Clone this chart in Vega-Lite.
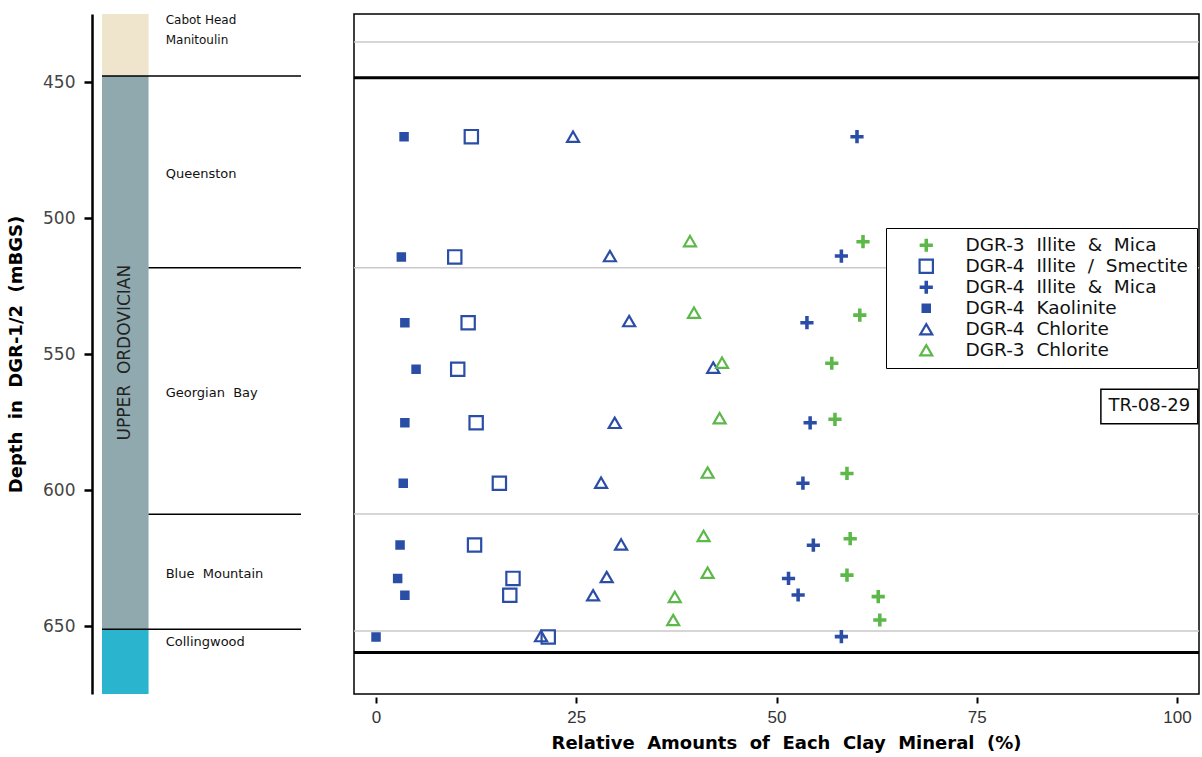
{
  "$schema": "https://vega.github.io/schema/vega-lite/v6.json",
  "background": "white",
  "padding": {"left": 7, "top": 13, "right": 0, "bottom": 0},
  "spacing": 53,
  "bounds": "flush",
  "config": {"view": {"stroke": null}, "font": "DejaVu Sans", "axis": {"grid": false}},
  "hconcat": [
    {
      "width": 199,
      "height": 680,
      "layer": [
        {
          "data": {"values": [
            {"interval": "Cabot Head - Manitoulin", "top": 425, "base": 447.8},
            {"interval": "Upper Ordovician", "top": 447.8, "base": 651.2},
            {"interval": "Collingwood", "top": 651.2, "base": 675}
          ]},
          "mark": {"type": "rect", "opacity": 1},
          "encoding": {
            "x": {"datum": 0, "type": "quantitative", "scale": {"domain": [0, 100], "nice": false, "zero": false}, "axis": null},
            "x2": {"datum": 23.4},
            "y": {"field": "top", "type": "quantitative",
              "scale": {"domain": [425, 675], "reverse": true, "nice": false, "zero": false},
              "axis": {
                "title": "Depth\u00a0\u00a0in\u00a0\u00a0DGR-1/2\u00a0\u00a0(mBGS)",
                "values": [450, 500, 550, 600, 650],
                "offset": 10, "tickSize": 8, "tickWidth": 2.5, "domainWidth": 2.5,
                "domainColor": "black", "tickColor": "black",
                "labelFont": "DejaVu Sans", "labelFontSize": 17, "labelColor": "#444", "labelPadding": 9,
                "titleFont": "DejaVu Sans", "titleFontWeight": "bold", "titleFontSize": 18, "titlePadding": 17, "titleColor": "black"
              }},
            "y2": {"field": "base"},
            "color": {"field": "interval", "type": "nominal",
              "scale": {"domain": ["Cabot Head - Manitoulin", "Upper Ordovician", "Collingwood"], "range": ["#efe5cd", "#90a9ae", "#2ab4cd"]},
              "legend": null}
          }
        },
        {
          "mark": {"type": "rule", "color": "black", "strokeWidth": 1.5},
          "encoding": {"x": {"datum": 0, "type": "quantitative"}}
        },
        {
          "mark": {"type": "rule", "color": "black", "strokeWidth": 1.5},
          "encoding": {"x": {"datum": 23.4, "type": "quantitative"}}
        },
        {
          "mark": {"type": "rule", "color": "black", "strokeWidth": 1.5},
          "encoding": {"x": {"datum": 100, "type": "quantitative"}}
        },
        {
          "data": {"values": [{"depth": 447.8}, {"depth": 651.2}]},
          "mark": {"type": "rule", "color": "black", "strokeWidth": 1.5},
          "encoding": {
            "x": {"datum": 0, "type": "quantitative"},
            "x2": {"datum": 100},
            "y": {"field": "depth", "type": "quantitative"}
          }
        },
        {
          "data": {"values": [{"depth": 518.3}, {"depth": 608.9}]},
          "mark": {"type": "rule", "color": "black", "strokeWidth": 1.5},
          "encoding": {
            "x": {"datum": 23.4, "type": "quantitative"},
            "x2": {"datum": 100},
            "y": {"field": "depth", "type": "quantitative"}
          }
        },
        {
          "data": {"values": [
            {"name": "Cabot\u00a0Head", "depth": 427.2},
            {"name": "Manitoulin", "depth": 434.7}
          ]},
          "mark": {"type": "text", "align": "left", "baseline": "middle", "fontSize": 12, "font": "DejaVu Sans", "color": "#111"},
          "encoding": {
            "x": {"datum": 32, "type": "quantitative"},
            "y": {"field": "depth", "type": "quantitative"},
            "text": {"field": "name"}
          }
        },
        {
          "data": {"values": [
            {"name": "Queenston", "depth": 483.7},
            {"name": "Georgian\u00a0\u00a0Bay", "depth": 564.2},
            {"name": "Blue\u00a0\u00a0Mountain", "depth": 630.8},
            {"name": "Collingwood", "depth": 655.8}
          ]},
          "mark": {"type": "text", "align": "left", "baseline": "middle", "fontSize": 13, "font": "DejaVu Sans", "color": "#111"},
          "encoding": {
            "x": {"datum": 32, "type": "quantitative"},
            "y": {"field": "depth", "type": "quantitative"},
            "text": {"field": "name"}
          }
        },
        {
          "data": {"values": [{"name": "UPPER\u00a0\u00a0ORDOVICIAN", "depth": 549.5}]},
          "mark": {"type": "text", "align": "center", "baseline": "middle", "angle": 270, "fontSize": 17, "font": "DejaVu Sans", "color": "#222"},
          "encoding": {
            "x": {"datum": 11.7, "type": "quantitative"},
            "y": {"field": "depth", "type": "quantitative"},
            "text": {"field": "name"}
          }
        }
      ]
    },
    {
      "width": 845,
      "height": 680,
      "view": {"stroke": "black", "strokeWidth": 1.5},
      "layer": [
        {
          "data": {"values": [{"depth": 435.3}, {"depth": 518.3}, {"depth": 608.8}, {"depth": 651.8}]},
          "mark": {"type": "rule", "color": "#c9c9c9", "strokeWidth": 1.5},
          "encoding": {
            "y": {"field": "depth", "type": "quantitative",
              "scale": {"domain": [425, 675], "reverse": true, "nice": false, "zero": false}, "axis": null}
          }
        },
        {
          "data": {"values": [{"depth": 448.4}, {"depth": 659.7}]},
          "mark": {"type": "rule", "color": "black", "strokeWidth": 3},
          "encoding": {
            "y": {"field": "depth", "type": "quantitative", "axis": null}
          }
        },
        {
          "data": {"values": [
            {"series": "DGR-4 Kaolinite", "pct": 3.5, "depth": 470.1},
            {"series": "DGR-4 Illite / Smectite", "pct": 11.9, "depth": 470.1},
            {"series": "DGR-4 Chlorite", "pct": 24.6, "depth": 470.1},
            {"series": "DGR-4 Illite & Mica", "pct": 60.05, "depth": 470.1},

            {"series": "DGR-4 Kaolinite", "pct": 3.16, "depth": 514.3},
            {"series": "DGR-4 Illite / Smectite", "pct": 9.83, "depth": 514.3},
            {"series": "DGR-4 Chlorite", "pct": 29.2, "depth": 514.0},
            {"series": "DGR-3 Chlorite", "pct": 39.2, "depth": 508.5},
            {"series": "DGR-4 Illite & Mica", "pct": 58.1, "depth": 514.0},
            {"series": "DGR-3 Illite & Mica", "pct": 60.8, "depth": 508.7},

            {"series": "DGR-4 Kaolinite", "pct": 3.6, "depth": 538.5},
            {"series": "DGR-4 Illite / Smectite", "pct": 11.5, "depth": 538.5},
            {"series": "DGR-4 Chlorite", "pct": 31.6, "depth": 537.9},
            {"series": "DGR-3 Chlorite", "pct": 39.7, "depth": 534.8},
            {"series": "DGR-4 Illite & Mica", "pct": 53.8, "depth": 538.5},
            {"series": "DGR-3 Illite & Mica", "pct": 60.4, "depth": 535.7},

            {"series": "DGR-4 Kaolinite", "pct": 5.0, "depth": 555.6},
            {"series": "DGR-4 Illite / Smectite", "pct": 10.2, "depth": 555.6},
            {"series": "DGR-4 Chlorite", "pct": 42.1, "depth": 555.0},
            {"series": "DGR-3 Chlorite", "pct": 43.2, "depth": 553.2},
            {"series": "DGR-3 Illite & Mica", "pct": 56.9, "depth": 553.4},

            {"series": "DGR-4 Kaolinite", "pct": 3.6, "depth": 575.3},
            {"series": "DGR-4 Illite / Smectite", "pct": 12.5, "depth": 575.3},
            {"series": "DGR-4 Chlorite", "pct": 29.8, "depth": 575.3},
            {"series": "DGR-3 Chlorite", "pct": 42.9, "depth": 573.6},
            {"series": "DGR-4 Illite & Mica", "pct": 54.2, "depth": 575.3},
            {"series": "DGR-3 Illite & Mica", "pct": 57.3, "depth": 574.0},

            {"series": "DGR-4 Kaolinite", "pct": 3.4, "depth": 597.5},
            {"series": "DGR-4 Illite / Smectite", "pct": 15.4, "depth": 597.5},
            {"series": "DGR-4 Chlorite", "pct": 28.1, "depth": 597.3},
            {"series": "DGR-3 Chlorite", "pct": 41.4, "depth": 593.6},
            {"series": "DGR-4 Illite & Mica", "pct": 53.3, "depth": 597.5},
            {"series": "DGR-3 Illite & Mica", "pct": 58.8, "depth": 593.9},

            {"series": "DGR-4 Kaolinite", "pct": 3.0, "depth": 620.2},
            {"series": "DGR-4 Illite / Smectite", "pct": 12.3, "depth": 620.2},
            {"series": "DGR-4 Chlorite", "pct": 30.6, "depth": 620.0},
            {"series": "DGR-3 Chlorite", "pct": 40.9, "depth": 616.9},
            {"series": "DGR-4 Illite & Mica", "pct": 54.6, "depth": 620.3},
            {"series": "DGR-3 Illite & Mica", "pct": 59.2, "depth": 617.9},

            {"series": "DGR-4 Kaolinite", "pct": 2.7, "depth": 632.5},
            {"series": "DGR-4 Illite / Smectite", "pct": 17.1, "depth": 632.5},
            {"series": "DGR-4 Chlorite", "pct": 28.8, "depth": 632.0},
            {"series": "DGR-3 Chlorite", "pct": 41.4, "depth": 630.4},
            {"series": "DGR-4 Illite & Mica", "pct": 51.5, "depth": 632.5},
            {"series": "DGR-3 Illite & Mica", "pct": 58.8, "depth": 631.3},

            {"series": "DGR-4 Kaolinite", "pct": 3.6, "depth": 638.7},
            {"series": "DGR-4 Illite / Smectite", "pct": 16.7, "depth": 638.7},
            {"series": "DGR-4 Chlorite", "pct": 27.1, "depth": 638.7},
            {"series": "DGR-3 Chlorite", "pct": 37.3, "depth": 639.3},
            {"series": "DGR-4 Illite & Mica", "pct": 52.7, "depth": 638.6},
            {"series": "DGR-3 Illite & Mica", "pct": 62.7, "depth": 639.2},

            {"series": "DGR-3 Chlorite", "pct": 37.1, "depth": 647.8},
            {"series": "DGR-3 Illite & Mica", "pct": 62.9, "depth": 647.8},

            {"series": "DGR-4 Kaolinite", "pct": 0.0, "depth": 654.0},
            {"series": "DGR-4 Illite / Smectite", "pct": 21.5, "depth": 654.0},
            {"series": "DGR-4 Chlorite", "pct": 20.6, "depth": 653.7},
            {"series": "DGR-4 Illite & Mica", "pct": 58.1, "depth": 653.9}
          ]},
          "mark": {"type": "point", "filled": true, "size": 225, "strokeWidth": 2.2, "opacity": 1},
          "encoding": {
            "x": {"field": "pct", "type": "quantitative",
              "scale": {"domain": [-2.75, 102.75], "nice": false, "zero": false},
              "axis": {
                "values": [0, 25, 50, 75, 100],
                "title": "Relative\u00a0\u00a0Amounts\u00a0\u00a0of\u00a0\u00a0Each\u00a0\u00a0Clay\u00a0\u00a0Mineral\u00a0\u00a0(%)",
                "domain": false, "offset": 3, "tickSize": 6, "tickWidth": 2, "tickColor": "black",
                "labelFont": "Liberation Sans", "labelFontSize": 17, "labelColor": "#333", "labelPadding": 6,
                "titleFont": "DejaVu Sans", "titleFontWeight": "bold", "titleFontSize": 18, "titlePadding": 9, "titleColor": "black",
                "titleX": 432
              }},
            "y": {"field": "depth", "type": "quantitative", "axis": null},
            "shape": {"field": "series", "type": "nominal",
              "scale": {
                "domain": ["DGR-3 Illite & Mica", "DGR-4 Illite / Smectite", "DGR-4 Illite & Mica", "DGR-4 Kaolinite", "DGR-4 Chlorite", "DGR-3 Chlorite"],
                "range": [
                  "M-0.733,-0.09H-0.09V-0.733H0.09V-0.09H0.733V0.09H0.09V0.733H-0.09V0.09H-0.733Z",
                  "M-0.887,-0.887H0.887V0.887H-0.887Z",
                  "M-0.733,-0.09H-0.09V-0.733H0.09V-0.09H0.733V0.09H0.09V0.733H-0.09V0.09H-0.733Z",
                  "M-0.487,-0.487H0.487V0.487H-0.487Z",
                  "M0,-0.69L0.8,0.69L-0.8,0.69Z",
                  "M0,-0.69L0.8,0.69L-0.8,0.69Z"
                ]},
              "legend": {"orient": "none", "legendX": 784, "legendY": 214, "title": null, "strokeColor": "black", "fillColor": "white",
                "padding": 8, "symbolOffset": 23, "labelOffset": 30, "labelFont": "DejaVu Sans", "labelFontSize": 18.5, "labelColor": "#111",
                "labelLimit": 400, "rowPadding": -2, "gridAlign": "all", "symbolSize": 225, "symbolStrokeWidth": 2.2,
                "symbolFillColor": "transparent", "symbolStrokeColor": "#2a4ea6",
                "labelExpr": "replace(datum.label, regexp(' ', 'g'), '\u00a0\u00a0')"}},
            "fill": {"field": "series", "type": "nominal",
              "scale": {
                "domain": ["DGR-3 Illite & Mica", "DGR-4 Illite / Smectite", "DGR-4 Illite & Mica", "DGR-4 Kaolinite", "DGR-4 Chlorite", "DGR-3 Chlorite"],
                "range": ["#5cb848", "transparent", "#2a4ea6", "#2a4ea6", "transparent", "transparent"]},
              "legend": {"orient": "none", "legendX": 784, "legendY": 214, "title": null, "strokeColor": "black", "fillColor": "white",
                "padding": 8, "symbolOffset": 23, "labelOffset": 30, "labelFont": "DejaVu Sans", "labelFontSize": 18.5, "labelColor": "#111",
                "labelLimit": 400, "rowPadding": -2, "gridAlign": "all", "symbolSize": 225, "symbolStrokeWidth": 2.2,
                "symbolFillColor": "transparent", "symbolStrokeColor": "#2a4ea6",
                "labelExpr": "replace(datum.label, regexp(' ', 'g'), '\u00a0\u00a0')"}},
            "stroke": {"field": "series", "type": "nominal",
              "scale": {
                "domain": ["DGR-3 Illite & Mica", "DGR-4 Illite / Smectite", "DGR-4 Illite & Mica", "DGR-4 Kaolinite", "DGR-4 Chlorite", "DGR-3 Chlorite"],
                "range": ["#5cb848", "#2a4ea6", "#2a4ea6", "#2a4ea6", "#2a4ea6", "#5cb848"]},
              "legend": {"orient": "none", "legendX": 784, "legendY": 214, "title": null, "strokeColor": "black", "fillColor": "white",
                "padding": 8, "symbolOffset": 23, "labelOffset": 30, "labelFont": "DejaVu Sans", "labelFontSize": 18.5, "labelColor": "#111",
                "labelLimit": 400, "rowPadding": -2, "gridAlign": "all", "symbolSize": 225, "symbolStrokeWidth": 2.2,
                "symbolFillColor": "transparent", "symbolStrokeColor": "#2a4ea6",
                "labelExpr": "replace(datum.label, regexp(' ', 'g'), '\u00a0\u00a0')"}}
          }
        },
        {
          "data": {"values": [{"label": "TR-08-29"}]},
          "mark": {"type": "rect", "fill": "white", "stroke": "black", "strokeWidth": 1.5},
          "encoding": {
            "x": {"datum": 90.5, "type": "quantitative"},
            "x2": {"datum": 102.6},
            "y": {"datum": 563.0, "type": "quantitative", "axis": null},
            "y2": {"datum": 575.6}
          }
        },
        {
          "data": {"values": [{"label": "TR-08-29"}]},
          "mark": {"type": "text", "fontSize": 18, "font": "DejaVu Sans", "color": "#111", "align": "center", "baseline": "middle"},
          "encoding": {
            "x": {"datum": 96.55, "type": "quantitative"},
            "y": {"datum": 569.3, "type": "quantitative", "axis": null},
            "text": {"field": "label"}
          }
        }
      ]
    }
  ]
}
